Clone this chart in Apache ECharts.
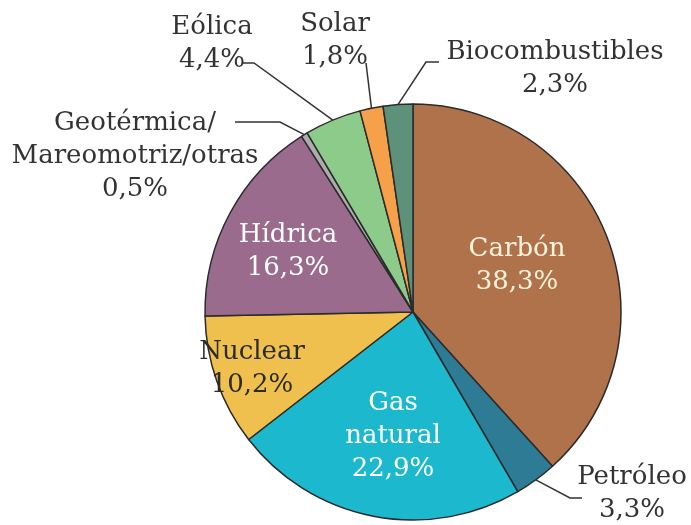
<!DOCTYPE html>
<html>
<head>
<meta charset="utf-8">
<script src="https://cdn.jsdelivr.net/npm/echarts@6/dist/echarts.min.js"></script>
<style>
  html, body { margin: 0; padding: 0; background: #fff; }
  #main { width: 691px; height: 525px; }
</style>
</head>
<body>
<div id="main"></div>
<script>
// datos
var fuentes = ['Carbón', 'Petróleo', 'Gas\nnatural', 'Nuclear', 'Hídrica',
               'Geotérmica/\nMareomotriz/otras', 'Eólica', 'Solar', 'Biocombustibles'];
var porcentajes = [38.3, 3.3, 22.9, 10.2, 16.3, 0.5, 4.4, 1.8, 2.3];

// estilos
var colores = ['#b0724a', '#2e7b96', '#1cb8cd', '#f0c04f', '#9a6b8d',
               '#acacac', '#8ccb8a', '#f6a04a', '#5d917a'];
var colorTexto = ['#fff3dc', '#333', '#fff', '#2b2b2b', '#fff', '#333', '#333', '#333', '#333'];
var dentro = [true, false, true, true, true, false, false, false, false];

// centro de cada bloque de texto y quiebres de la linea guia (px)
var posEtiqueta = [[517, 266], [632, 494], [393, 436], [252, 369], [288, 252],
                   [135, 156], [212, 44], [335, 41], [555, 69]];
var guia = [null, [[570, 498], [582, 498]], null, null, null,
            [[280, 122], [235, 122]], [[254, 63], [243, 63]], [[366, 63]], [[426, 62], [439, 62]]];

var centro = [413, 312];
var radio = 208;
var fuenteTexto = '"DejaVu Serif", serif';

function fmt(v) {
    return v.toFixed(1).replace('.', ',') + '%';
}

var myChart = echarts.init(document.getElementById('main'));

var datos = fuentes.map(function (n, i) {
    return {
        name: n,
        value: porcentajes[i],
        itemStyle: { color: colores[i] },
        label: {
            position: dentro[i] ? 'inside' : 'outside',
            color: colorTexto[i]
        },
        labelLine: { show: !dentro[i] }
    };
});

var option = {
    animation: false,
    series: [{
        type: 'pie',
        center: centro,
        radius: radio,
        startAngle: 90,
        clockwise: true,
        avoidLabelOverlap: false,
        itemStyle: {
            borderColor: '#2b2b2b',
            borderWidth: 1.5
        },
        label: {
            fontFamily: fuenteTexto,
            fontSize: 26,
            lineHeight: 33,
            align: 'center',
            formatter: function (p) {
                return p.name + '\n' + fmt(p.value);
            }
        },
        labelLine: {
            lineStyle: { color: '#333', width: 1.5 }
        },
        labelLayout: function (params) {
            var i = params.dataIndex;
            var res = {
                x: posEtiqueta[i][0],
                y: posEtiqueta[i][1],
                align: 'center',
                verticalAlign: 'middle'
            };
            if (guia[i]) {
                var p0;
                if (params.labelLinePoints && params.labelLinePoints[0]) {
                    p0 = params.labelLinePoints[0];
                } else {
                    var antes = 0;
                    for (var k = 0; k < i; k++) antes += porcentajes[k];
                    var ang = (antes + porcentajes[i] / 2) / 100 * 2 * Math.PI;
                    p0 = [centro[0] + radio * Math.sin(ang), centro[1] - radio * Math.cos(ang)];
                }
                res.labelLinePoints = [p0].concat(guia[i]);
            }
            return res;
        },
        data: datos
    }]
};

myChart.setOption(option);
</script>
</body>
</html>
